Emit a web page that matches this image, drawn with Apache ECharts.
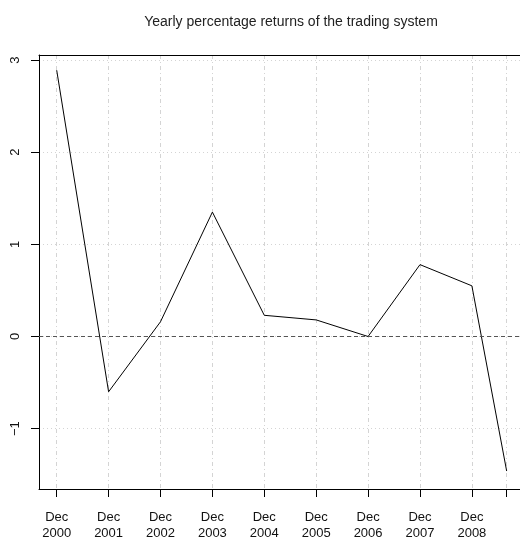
<!DOCTYPE html>
<html>
<head>
<meta charset="utf-8">
<script src="https://cdn.jsdelivr.net/npm/echarts@6/dist/echarts.min.js"></script>
<style>html,body{margin:0;padding:0;background:#fff}#c{width:520px;height:538px}</style>
</head>
<body>
<div id="c"></div>
<script>
// Period end labels (last period is a partial year, tick without label)
const periodLabels = ["Dec\n2000","Dec\n2001","Dec\n2002","Dec\n2003","Dec\n2004","Dec\n2005","Dec\n2006","Dec\n2007","Dec\n2008",""];
// Years elapsed since Dec 2000 for each period end
const yearsElapsed = [0, 1, 2, 3, 4, 5, 6, 7, 8, 8.67];
// Yearly percentage returns
const returns = [2.89, -0.60, 0.16, 1.35, 0.23, 0.18, 0.00, 0.78, 0.55, -1.46];
// Y tick values
const yTicks = [-1, 0, 1, 2, 3];

const labeledX = yearsElapsed.filter((v, i) => periodLabels[i] !== "");
const FONT = "Liberation Sans, Arial, Helvetica, sans-serif";
const X_MIN = -0.341, X_MAX = 8.927;

const chart = echarts.init(document.getElementById('c'), null, {renderer: 'canvas'});
chart.setOption({
  animation: false,
  backgroundColor: '#fff',
  title: {
    text: 'Yearly percentage returns of the trading system',
    left: 286, top: 10, textAlign: 'center',
    textStyle: {fontFamily: FONT, fontSize: 14, fontWeight: 'normal', color: '#222'}
  },
  grid: {left: 39, top: 55, bottom: 49, right: 0, show: false, containLabel: false, outerBoundsMode: 'none'},
  xAxis: [{
    type: 'value', min: X_MIN, max: X_MAX,
    axisLine: {show: true, onZero: false, lineStyle: {color: '#000', width: 1}},
    axisTick: {show: true, length: 8, customValues: yearsElapsed, lineStyle: {color: '#000'}},
    axisLabel: {
      customValues: labeledX,
      formatter: v => { const i = yearsElapsed.indexOf(v); return i >= 0 ? periodLabels[i] : ''; },
      fontFamily: FONT, fontSize: 13, color: '#111', lineHeight: 16, margin: 20
    },
    splitLine: {show: true, lineStyle: {color: '#d4d4d4', type: [4, 3, 1, 3], width: 1}}
  }, {
    type: 'value', position: 'top', min: X_MIN, max: X_MAX,
    axisLine: {show: true, onZero: false, lineStyle: {color: '#000', width: 1}},
    axisTick: {show: false}, axisLabel: {show: false}, splitLine: {show: false}
  }],
  yAxis: {
    type: 'value', min: -1.655, max: 3.055,
    axisLine: {show: true, onZero: false, lineStyle: {color: '#000', width: 1}},
    axisTick: {show: true, length: 8, customValues: yTicks, lineStyle: {color: '#000'}},
    axisLabel: {
      customValues: yTicks, rotate: 90, margin: 17,
      formatter: v => v < 0 ? '\u2212' + Math.abs(v) : String(v),
      fontFamily: FONT, fontSize: 13, color: '#111'
    },
    splitLine: {show: true, lineStyle: {color: '#d4d4d4', type: [1, 3], width: 1}}
  },
  series: [{
    type: 'line',
    data: yearsElapsed.map((x, i) => [x, returns[i]]),
    showSymbol: false, symbol: 'none',
    lineStyle: {color: '#000', width: 1},
    markLine: {
      silent: true, symbol: 'none', label: {show: false},
      lineStyle: {color: '#555', type: [4, 3], width: 1.2},
      data: [{yAxis: 0}]
    }
  }]
});
</script>
</body>
</html>
